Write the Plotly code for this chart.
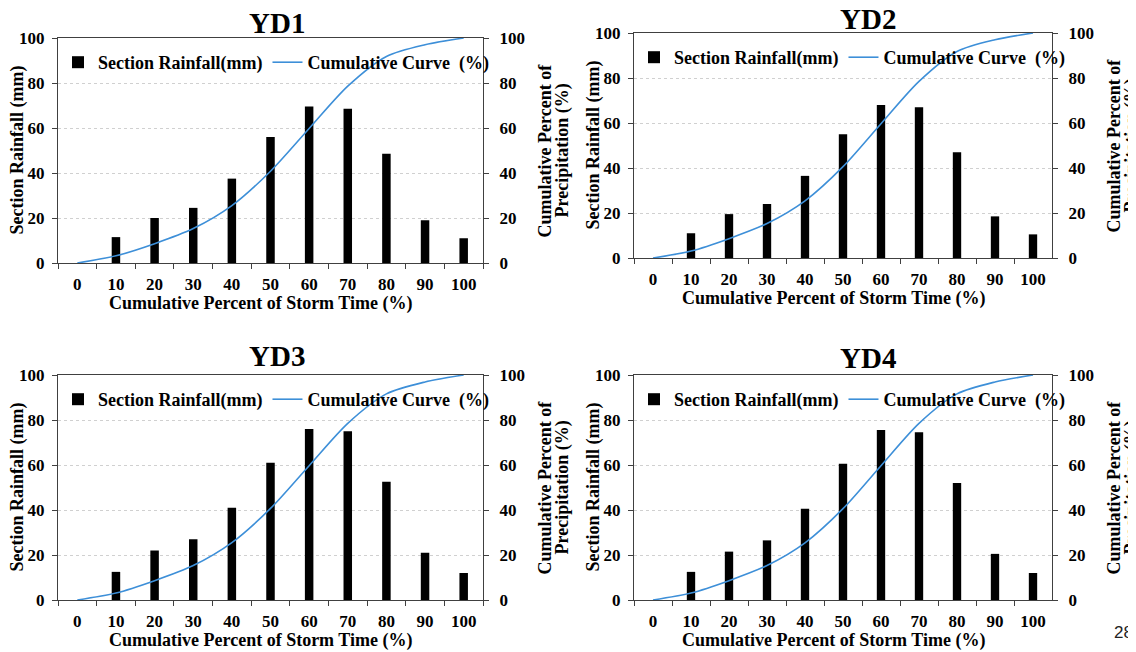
import plotly.graph_objects as go

categories = ["0", "10", "20", "30", "40", "50", "60", "70", "80", "90", "100"]
rain_yd1 = [0, 11.5, 20, 24.5, 37.5, 56, 69.5, 68.5, 48.5, 19, 11]
rain_yd2 = [0, 11, 19.5, 24, 36.5, 55, 68, 67, 47, 18.5, 10.5]
rain_yd3 = [0, 12.5, 22, 27, 41, 61, 76, 75, 52.5, 21, 12]
rain_yd4 = [0, 12.5, 21.5, 26.5, 40.5, 60.5, 75.5, 74.5, 52, 20.5, 12]
cum_yd1 = [0, 3.2, 8.6, 15.3, 25.5, 40.8, 59.8, 78.6, 91.8, 97, 100]
cum_yd2 = [0, 3.1, 8.6, 15.3, 25.4, 40.6, 59.7, 78.5, 91.8, 97, 100]
cum_yd3 = [0, 3.1, 8.6, 15.3, 25.5, 40.7, 59.7, 78.5, 91.6, 96.9, 100]
cum_yd4 = [0, 3.1, 8.6, 15.3, 25.4, 40.6, 59.7, 78.5, 91.6, 96.9, 100]
titles = ["YD1", "YD2", "YD3", "YD4"]

# page body has an 8px default margin: figure fills the rest of the window
OFF = 8
W, H = 1136 - OFF, 652 - OFF
FONT = "Liberation Serif"
BLUE = "#3d8fd8"

# panel boxes in window pixels: (left, right, top, bottom)
boxes = [(58, 483, 38, 263), (634, 1052, 33, 258), (58, 483, 375, 600), (634, 1052, 375, 600)]
title_pos = [(277, 23), (868, 19), (277, 356), (868, 358)]

rains = [rain_yd1, rain_yd2, rain_yd3, rain_yd4]
cums = [cum_yd1, cum_yd2, cum_yd3, cum_yd4]

fig = go.Figure()
annotations = []
layout = {}


def px(x):
    return (x - OFF) / W


def py(y):
    return 1 - (y - OFF) / H


def bfont(size, color="black"):
    return dict(family=FONT, size=size, color=color, weight="bold")


def note(text, x, y, size, angle=0, xanchor="center", font=None):
    return dict(text=text, x=px(x), y=py(y), xref="paper", yref="paper", showarrow=False,
                xanchor=xanchor, yanchor="middle", textangle=angle, align="center",
                font=font if font is not None else bfont(size))


for i in range(4):
    l, r, t, b = boxes[i]
    n = i + 1
    xa = "x" if n == 1 else f"x{n}"
    ya = "y" if n == 1 else f"y{2*n-1}"
    ya2 = f"y{2*n}"
    leg = "legend" if n == 1 else f"legend{n}"
    fig.add_trace(go.Bar(x=categories, y=rains[i], name="Section Rainfall(mm)",
                         marker=dict(color="black", line=dict(width=0)), width=0.22,
                         xaxis=xa, yaxis=ya, legend=leg))
    fig.add_trace(go.Scatter(x=categories, y=cums[i], name="Cumulative Curve  (%)", mode="lines",
                             line=dict(color=BLUE, width=1.6, shape="spline", smoothing=0.8),
                             xaxis=xa, yaxis=ya2, legend=leg))
    xkey = "xaxis" if n == 1 else f"xaxis{n}"
    ykey = "yaxis" if n == 1 else f"yaxis{2*n-1}"
    y2key = f"yaxis{2*n}"
    tickfont = bfont(17)
    layout[xkey] = dict(domain=[px(l), px(r)], anchor=ya, type="category", automargin=False,
                        range=[-0.5, 10.5], showline=True, linecolor="#404040", linewidth=1.2,
                        mirror=True, ticks="outside", tickson="boundaries", ticklen=5,
                        tickcolor="#404040", tickfont=tickfont, ticklabelstandoff=5,
                        showgrid=False, fixedrange=True)
    layout[ykey] = dict(domain=[py(b), py(t)], anchor=xa, range=[0, 100], dtick=20, automargin=False,
                        showline=True, linecolor="#404040", linewidth=1.2, ticks="outside",
                        ticklen=5, tickcolor="#404040", tickfont=tickfont, ticklabelstandoff=4,
                        showgrid=True, gridcolor="#d0d0d0", griddash="dot", gridwidth=1,
                        zeroline=False)
    layout[y2key] = dict(overlaying=ya, side="right", anchor=xa, range=[0, 100], dtick=20,
                         automargin=False,
                         showline=True, linecolor="#404040", linewidth=1.2, ticks="outside",
                         ticklen=5, tickcolor="#404040", tickfont=tickfont, ticklabelstandoff=7,
                         showgrid=False, zeroline=False)
    layout[leg] = dict(x=px(l), y=py(t + 6), xanchor="left", yanchor="top",
                       orientation="h", bgcolor="rgba(0,0,0,0)",
                       font=bfont(18), itemwidth=30, tracegroupgap=0)
    tx, ty = title_pos[i]
    annotations.append(note(titles[i], tx, ty, 29))
    annotations.append(note("Cumulative Percent of Storm Time (%)", (l + r) / 2 - 10, b + 40, 18))
    annotations.append(note("Section Rainfall (mm)", l - 41, (t + b) / 2, 18, angle=-90))
    annotations.append(note("Cumulative Percent of", r + 61, (t + b) / 2, 18, angle=-90))
    annotations.append(note("Precipitation (%)", r + 79, (t + b) / 2, 18, angle=-90))

annotations.append(note("28", 1112, 632, 17, xanchor="left",
                        font=dict(family="Liberation Sans", size=17, color="#222222")))

fig.update_layout(template="none", width=W, height=H, margin=dict(l=0, r=0, t=0, b=0),
                  paper_bgcolor="white", plot_bgcolor="white", bargap=0.78,
                  annotations=annotations, **layout)

fig.write_html("out.html")
